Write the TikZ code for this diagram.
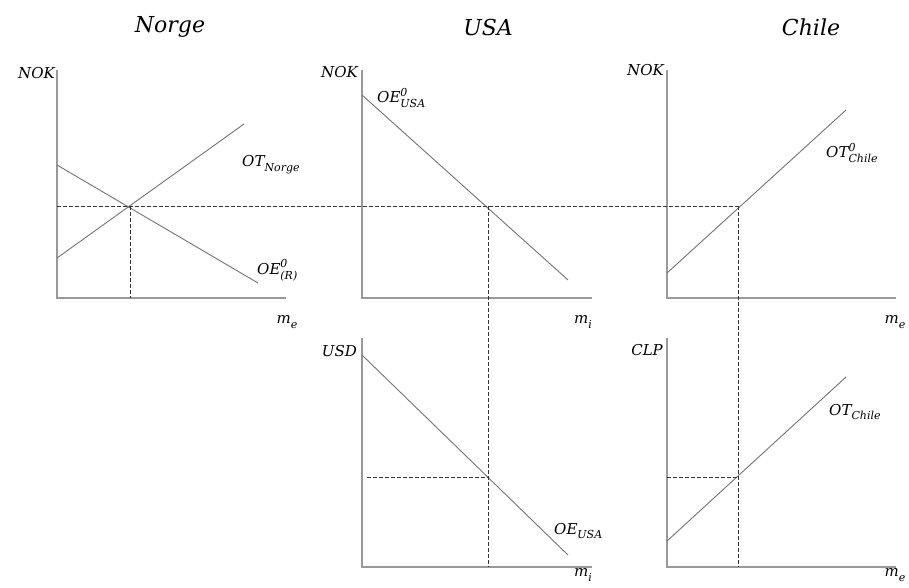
\documentclass[tikz,border=0pt]{standalone}
\usepackage{fontspec}
\setmainfont{DejaVu Serif}
\newcommand\smallsz{\fontsize{11}{11}\selectfont}
\newcommand\lbsub[3]{#1\makebox[0pt][l]{\raisebox{0.45em}{\smallsz #2}}\raisebox{-0.32em}{\smallsz #3}}
\begin{document}
\begin{tikzpicture}[x=1pt,y=-1pt,
  axis/.style={draw=black!40,line width=1.4pt},
  curve/.style={draw=black!55,line width=0.9pt},
  guide/.style={draw=black!80,line width=0.9pt,dash pattern=on 3.5pt off 2.5pt},
  lab/.style={font=\fontsize{15}{17}\selectfont\itshape,inner sep=1pt},
  ttl/.style={font=\fontsize{22}{26}\selectfont\itshape,inner sep=0pt}]
\useasboundingbox (0,0) rectangle (909,587);
% titles
\node[ttl] (tN) at (170,27) {Norge};
\node[ttl] (tU) at (488,27) {USA};
\node[ttl] (tC) at (811,27) {Chile};
% ---------- axes ----------
\coordinate (nO) at (57,298); \coordinate (nY) at (57,70); \coordinate (nX) at (286,298);
\coordinate (uO) at (362,298); \coordinate (uY) at (362,70); \coordinate (uX) at (592,298);
\coordinate (cO) at (667,298); \coordinate (cY) at (667,70); \coordinate (cX) at (896,298);
\coordinate (bO) at (362,567); \coordinate (bY) at (362,338); \coordinate (bX) at (592,567);
\coordinate (dO) at (667,567); \coordinate (dY) at (667,338); \coordinate (dX) at (896,567);
\draw[axis] (nY) -- (nO) -- (nX);
\draw[axis] (uY) -- (uO) -- (uX);
\draw[axis] (cY) -- (cO) -- (cX);
\draw[axis] (bY) -- (bO) -- (bX);
\draw[axis] (dY) -- (dO) -- (dX);
% ---------- curves ----------
\coordinate (nOE1) at (57,165); \coordinate (nOE2) at (258,283);
\coordinate (nOT1) at (57,258); \coordinate (nOT2) at (244,124);
\coordinate (uOE1) at (362,95); \coordinate (uOE2) at (568,280);
\coordinate (cOT1) at (667,273); \coordinate (cOT2) at (846,110);
\coordinate (bOE1) at (362,355); \coordinate (bOE2) at (568,555);
\coordinate (dOT1) at (667,541); \coordinate (dOT2) at (846,377);
\draw[curve] (nOE1) -- (nOE2);
\draw[curve] (nOT1) -- (nOT2);
\draw[curve] (uOE1) -- (uOE2);
\draw[curve] (cOT1) -- (cOT2);
\draw[curve] (bOE1) -- (bOE2);
\draw[curve] (dOT1) -- (dOT2);
% ---------- guides ----------
\coordinate (nE) at (130,206); \coordinate (nEx) at (130,298);
\coordinate (hL) at (57,206);
\coordinate (uE) at (488,206); \coordinate (bE) at (488,477); \coordinate (bEx) at (488,567);
\coordinate (bEy) at (367,477);
\coordinate (cE) at (738,206); \coordinate (dE) at (738,477); \coordinate (dEx) at (738,567);
\coordinate (dEy) at (667,477);
\draw[guide] (hL) -- (cE);
\draw[guide] (nE) -- (nEx);
\draw[guide] (uE) -- (bEx);
\draw[guide] (cE) -- (dEx);
\draw[guide] (bEy) -- (bE);
\draw[guide] (dEy) -- (dE);
% ---------- labels ----------
\node[lab,anchor=east] (lnN) at (56,73) {NOK};
\node[lab,anchor=east] (luN) at (359,72) {NOK};
\node[lab,anchor=east] (lcN) at (665,70) {NOK};
\node[lab,anchor=east] (lbU) at (358,351) {USD};
\node[lab,anchor=east] (ldC) at (664,350) {CLP};
\node[lab] (mx1) at (287,322) {\lbsub{m}{}{e}};
\node[lab] (mx2) at (583,322) {\lbsub{m}{}{i}};
\node[lab] (mx3) at (895,322) {\lbsub{m}{}{e}};
\node[lab] (mx4) at (583,575) {\lbsub{m}{}{i}};
\node[lab] (mx5) at (895,575) {\lbsub{m}{}{e}};
\node[lab,anchor=west] (lOTN) at (241,165) {\lbsub{OT}{}{Norge}};
\node[lab,anchor=west] (lOER) at (256,270) {\lbsub{OE}{0}{(R)}};
\node[lab,anchor=west] (lOEU0) at (376,98) {\lbsub{OE}{0}{USA}};
\node[lab,anchor=west] (lOTC0) at (825,153) {\lbsub{OT}{0}{Chile}};
\node[lab,anchor=west] (lOEU) at (553,531) {\lbsub{OE}{}{USA}};
\node[lab,anchor=west] (lOTC) at (828,412) {\lbsub{OT}{}{Chile}};
\end{tikzpicture}
\end{document}
